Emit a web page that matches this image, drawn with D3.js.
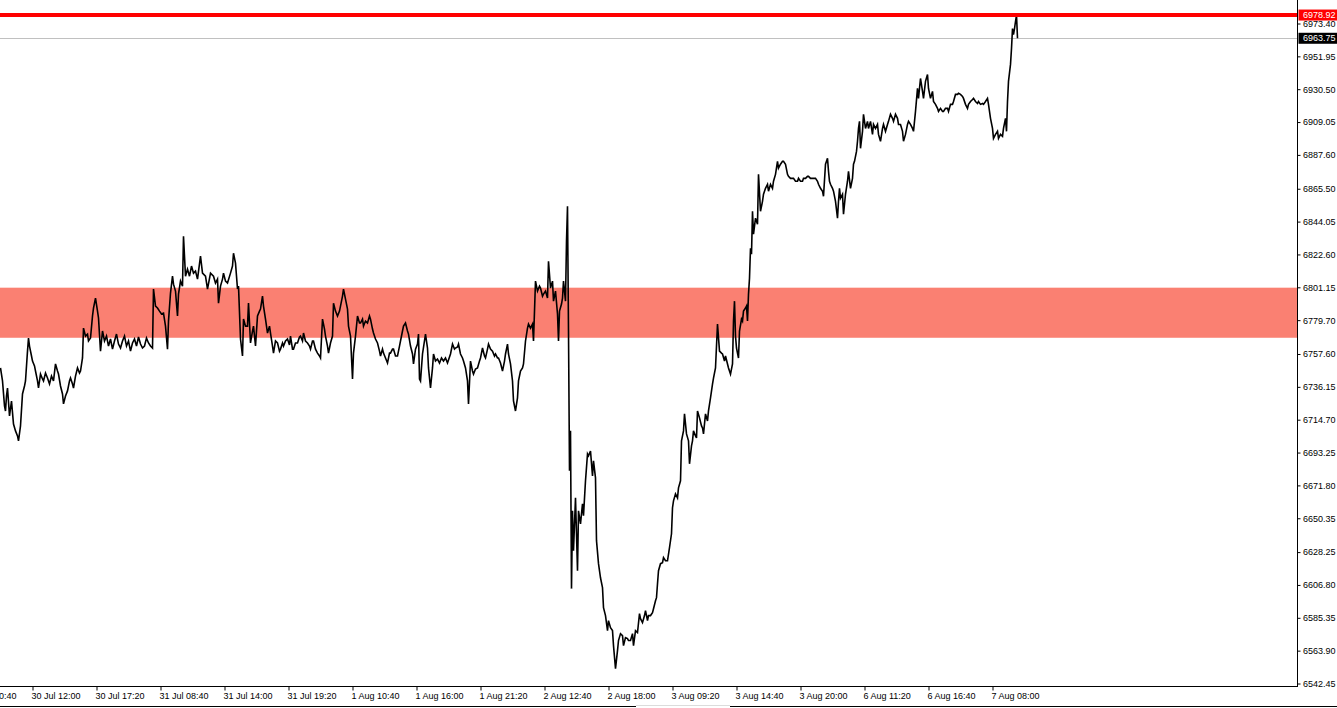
<!DOCTYPE html>
<html>
<head>
<meta charset="utf-8">
<script src="https://cdn.jsdelivr.net/npm/d3@7"></script>
<style>
  html, body { margin: 0; padding: 0; background: #ffffff; }
  svg { display: block; }
  text { font-family: "Liberation Sans", Arial, sans-serif; }
</style>
</head>
<body>
<svg id="chart" width="1337" height="708"></svg>
<script>
// ---------------- DATA ----------------
// [bar index (one M5 bar per step), close price]
const priceSeries = [
[0,6748.5],[2,6740.0],[4,6723.7],[5,6720.4],[6,6730.2],[7,6735.4],[9,6717.2],[11,6726.9],[13,6711.9],[15,6707.4],[17,6704.1],[18,6700.9],[20,6710.6],[22,6731.5],[24,6736.7],[25,6740.0],[27,6759.5],[28,6768.0],[29,6762.8],[31,6756.3],[32,6753.0],[34,6749.8],[35,6746.5],[37,6740.0],[38,6735.4],[40,6744.5],[42,6741.3],[43,6740.0],[45,6745.2],[47,6741.9],[49,6738.0],[51,6743.2],[53,6740.0],[55,6751.1],[57,6746.5],[58,6744.5],[60,6736.7],[62,6731.5],[63,6725.0],[65,6730.2],[67,6733.5],[69,6740.0],[70,6741.9],[72,6738.0],[73,6735.4],[75,6743.2],[77,6748.5],[79,6745.2],[80,6746.5],[82,6755.0],[83,6774.5],[85,6769.3],[87,6770.6],[88,6766.1],[90,6768.0],[92,6782.4],[93,6787.6],[95,6794.1],[97,6785.6],[98,6781.1],[100,6759.5],[102,6772.6],[104,6766.1],[106,6769.3],[108,6762.8],[110,6767.4],[112,6760.8],[114,6766.1],[116,6770.6],[118,6764.1],[120,6761.5],[122,6766.1],[124,6769.3],[126,6762.8],[128,6766.1],[130,6759.5],[132,6764.8],[134,6767.4],[136,6762.8],[138,6768.7],[140,6764.1],[142,6761.5],[144,6762.8],[146,6768.0],[148,6764.8],[150,6762.8],[152,6761.5],
[153,6800.0],[155,6788.9],[157,6787.6],[159,6785.6],[161,6783.7],[163,6784.3],[165,6775.8],[167,6760.8],[168,6779.1],[170,6797.4],[172,6808.4],[173,6803.2],[175,6798.7],[177,6782.4],[178,6796.7],[180,6805.2],[182,6801.9],[183,6834.5],[185,6808.4],[187,6813.0],[189,6808.4],[191,6815.0],[193,6810.4],[195,6811.7],[197,6806.5],[200,6821.5],[202,6810.4],[205,6808.4],[207,6800.0],[210,6810.4],[213,6808.4],[215,6803.9],[217,6806.5],[218,6790.8],[220,6801.9],[222,6806.5],[223,6810.4],[225,6805.2],[227,6803.9],[230,6810.4],[232,6815.0],[233,6823.4],[235,6816.9],[237,6800.0],[238,6801.9],[240,6767.4],
[242,6756.3],[243,6780.4],[245,6775.8],[247,6775.8],[248,6790.8],[250,6764.8],[252,6772.6],[253,6775.8],[255,6762.8],[257,6782.4],[259,6785.6],[260,6786.9],[262,6795.4],[263,6788.9],[265,6780.4],[267,6771.3],[269,6775.8],[270,6771.3],[272,6762.8],[273,6758.2],[275,6766.1],[277,6764.8],[279,6759.5],[280,6760.8],[282,6764.8],[283,6762.8],[285,6766.1],[287,6767.4],[289,6763.5],[290,6769.3],[292,6760.8],[293,6760.8],[295,6764.8],[297,6764.8],[299,6768.7],[300,6769.3],[302,6766.1],[303,6771.3],[305,6766.1],[307,6764.8],[309,6762.8],[310,6760.8],[312,6766.1],[313,6766.1],[315,6760.8],[317,6758.2],[319,6756.3],[320,6755.0],
[322,6780.4],[324,6773.9],[325,6769.3],[327,6762.8],[328,6758.2],[330,6764.8],[332,6769.3],[333,6790.8],[335,6785.6],[337,6782.4],[339,6785.6],[340,6788.9],[342,6795.4],[343,6800.0],[345,6793.4],[347,6786.9],[348,6775.8],[350,6769.3],[352,6741.3],[353,6758.2],[355,6769.3],[357,6782.4],[359,6777.8],[360,6777.8],[362,6780.4],[363,6775.8],[365,6779.1],[367,6777.8],[369,6782.4],[370,6780.4],[372,6773.9],[373,6771.3],[375,6767.4],[377,6764.8],[379,6759.5],[380,6756.3],[382,6760.8],[383,6758.2],[385,6755.0],[387,6751.7],[389,6758.2],[390,6758.2],[392,6760.8],[393,6760.8],[395,6756.3],[397,6756.3],[399,6762.8],[400,6766.1],[402,6772.6],[403,6775.8],[405,6777.8],[407,6772.6],[408,6770.6],[410,6762.8],[412,6757.6],[413,6751.1],[415,6760.8],[417,6764.1],[418,6770.6],[419,6741.3],[420,6740.0],
[422,6757.6],[425,6770.6],[427,6761.5],[428,6748.5],[430,6735.4],[432,6748.5],[433,6757.6],[435,6753.0],[437,6754.3],[439,6751.7],[441,6755.0],[443,6753.0],[445,6755.0],[447,6751.7],[449,6755.6],[450,6757.6],[452,6764.1],[454,6760.8],[455,6761.5],[457,6762.2],[458,6764.1],[460,6757.6],[462,6755.0],[463,6753.0],[465,6748.5],[467,6740.0],[468,6725.0],[470,6753.0],[472,6746.5],[473,6744.5],[475,6747.8],[477,6748.5],[479,6753.0],[480,6755.0],[482,6761.5],[484,6756.3],[485,6755.0],[487,6760.8],[488,6764.1],[490,6760.8],[492,6759.5],[494,6756.3],[495,6757.6],[497,6755.0],[498,6755.0],[500,6751.7],[502,6746.5],[504,6753.0],[505,6757.6],[507,6764.1],[508,6757.6],[510,6751.1],[512,6740.0],[513,6726.9],[515,6720.4],[517,6728.9],[518,6740.0],[520,6746.5],[522,6748.5],[523,6751.1],[525,6766.1],[527,6774.5],[528,6777.1],[530,6774.5],[532,6777.1],[533,6766.1],[534,6785.6],[535,6805.2],[537,6798.7],[539,6801.9],[540,6800.6],[542,6795.4],[543,6796.7],[545,6798.7],[547,6794.1],[548,6818.2],[550,6800.6],[552,6805.2],[553,6792.1],[555,6798.7],[557,6783.7],[558,6766.1],[559,6785.6],[561,6790.2],[562,6794.1],[563,6805.2],[565,6792.1],[566,6831.3],[567,6854.1],
[568,6772.6],[569,6681.3],[570,6707.4],[571,6604.4],[572,6655.2],[573,6629.1],[575,6663.7],[577,6616.1],[578,6655.2],[580,6646.7],[582,6659.8],[583,6652.0],[585,6674.8],[587,6692.4],[588,6691.1],[590,6694.3],[592,6678.0],[593,6687.8],[595,6676.7],[596,6635.7],[598,6620.7],[600,6611.5],[602,6605.0],[603,6592.0],[605,6586.8],[607,6577.0],[608,6583.5],[610,6578.9],[612,6577.0],[613,6567.2],[615,6552.2],[617,6563.9],[618,6570.5],[620,6575.0],[622,6573.7],[623,6567.2],[625,6572.4],[627,6571.8],[628,6570.5],[630,6570.5],[632,6575.0],[633,6567.2],[635,6577.0],[637,6575.7],[639,6588.1],[640,6584.8],[642,6582.2],[644,6586.8],[645,6590.0],[647,6583.5],[648,6586.8],[650,6586.8],[652,6588.7],[653,6591.3],[655,6596.5],[656,6598.5],[657,6607.6],[658,6616.1],[660,6620.7],[662,6621.3],[663,6624.6],[665,6622.6],[667,6622.6],[669,6631.1],[671,6640.2],[672,6657.2],[673,6661.7],[675,6666.3],[677,6663.7],[678,6670.2],[680,6674.8],[681,6700.9],[683,6707.4],[684,6718.5],[686,6705.4],[688,6700.9],[689,6685.9],[691,6697.6],[692,6700.9],[693,6707.4],[695,6704.1],[696,6702.8],[697,6720.4],[699,6715.9],[701,6710.6],[702,6709.3],[703,6705.4],[705,6718.5],[707,6713.9],[708,6720.4],[710,6728.9],[712,6738.0],[713,6741.9],[715,6748.5],[716,6762.8],[717,6777.1],[719,6759.5],[721,6758.2],[722,6757.6],[724,6753.0],[725,6756.3],[727,6751.1],[728,6748.5],[730,6744.5],[732,6751.1],[733,6779.1],[734,6792.1],[735,6769.3],[736,6761.5],[738,6755.0],[739,6772.6],[741,6780.4],[742,6779.1],[743,6785.6],[745,6787.6],[746,6788.9],[747,6779.1],[748,6796.7],[749,6807.1],[750,6826.7],[751,6822.8],[752,6850.8],[753,6835.8],[755,6846.3],[757,6842.3],[758,6874.9],[760,6850.8],[762,6857.3],[763,6861.9],[765,6865.8],[767,6868.4],[768,6863.9],[770,6868.4],[772,6865.8],[773,6870.4],[775,6874.9],[777,6883.4],[778,6878.9],[780,6881.5],[782,6883.4],[783,6883.4],[785,6881.5],[787,6874.9],[788,6873.6],[790,6872.3],[792,6872.3],[793,6872.3],[795,6870.4],[797,6870.4],[798,6872.3],[800,6870.4],[802,6870.4],[803,6872.3],[805,6872.3],[807,6873.6],[808,6873.6],[810,6872.3],[812,6872.3],[813,6872.3],[815,6872.3],[817,6870.4],[818,6868.4],[820,6865.8],[822,6863.9],[823,6860.6],
[825,6881.5],[827,6885.4],[828,6876.9],[829,6870.4],[830,6868.4],[832,6865.8],[833,6863.9],[835,6857.3],[837,6846.3],[838,6857.3],[839,6865.8],[840,6859.3],[842,6861.9],[843,6848.9],[845,6861.9],[847,6870.4],[848,6876.9],[850,6865.8],[852,6872.3],[853,6881.5],[854,6883.4],[856,6889.9],[857,6896.5],[858,6904.9],[859,6909.5],[860,6891.9],[862,6903.0],[863,6914.1],[865,6904.9],[867,6909.5],[868,6904.9],[870,6909.5],[872,6901.0],[873,6907.5],[875,6904.9],[877,6907.5],[878,6901.0],[880,6896.5],[882,6904.9],[883,6907.5],[885,6903.0],[887,6907.5],[888,6909.5],[890,6914.1],[892,6911.5],[893,6909.5],[895,6914.1],[897,6911.5],[898,6907.5],[900,6907.5],[902,6903.0],[903,6896.5],[905,6901.0],[907,6907.5],[908,6909.5],[910,6907.5],[912,6904.9],[913,6903.0],[915,6916.0],[917,6931.0],[918,6924.5],[920,6937.5],[922,6929.1],[923,6924.5],[925,6935.6],[927,6940.1],[928,6931.0],[930,6924.5],[932,6929.1],[933,6922.5],[935,6920.6],[937,6918.0],[938,6916.0],[940,6918.0],[942,6916.0],[943,6916.0],[945,6918.0],[947,6918.0],[948,6916.0],[950,6920.6],[952,6920.6],[953,6922.5],[955,6927.1],[957,6927.1],[958,6927.8],[960,6927.1],[962,6925.8],[963,6924.5],[965,6920.6],[967,6918.0],[968,6920.6],[970,6922.5],[972,6923.8],[973,6924.5],[975,6922.5],[977,6921.2],[978,6922.5],[980,6920.6],[982,6921.2],[983,6920.6],[985,6922.5],[987,6924.5],[988,6920.6],[990,6911.5],[992,6904.9],[993,6898.4],[995,6901.0],[997,6903.0],[998,6898.4],[1000,6901.0],[1002,6899.7],[1003,6904.9],[1005,6911.5],[1006,6903.0],[1007,6922.5],[1008,6935.6],[1010,6946.7],[1011,6957.1],[1012,6970.1],[1013,6966.2],[1014,6970.1],[1015,6974.7],[1016,6978.9],[1017,6963.75]
];

// Price axis tick labels (right scale)
const priceTicks = [6973.40, 6951.95, 6930.50, 6909.05, 6887.60, 6865.50, 6844.05, 6822.60,
  6801.15, 6779.70, 6757.60, 6736.15, 6714.70, 6693.25, 6671.80, 6650.35, 6628.25, 6606.80,
  6585.35, 6563.90, 6542.45];

// Time axis tick labels (every 64 M5 bars)
const timeTickBars = [-32, 32, 96, 160, 224, 288, 352, 416, 480, 544, 608, 672, 736, 800, 864, 928, 992];
const timeTickLabels = ["27 Jul 20:40", "30 Jul 12:00", "30 Jul 17:20", "31 Jul 08:40", "31 Jul 14:00",
  "31 Jul 19:20", "1 Aug 10:40", "1 Aug 16:00", "1 Aug 21:20", "2 Aug 12:40", "2 Aug 18:00",
  "3 Aug 09:20", "3 Aug 14:40", "3 Aug 20:00", "6 Aug 11:20", "6 Aug 16:40", "7 Aug 08:00"];

// Horizontal levels
const resistanceLevel = 6978.92;   // red line
const lastPrice = 6963.75;         // grey bid line
const zoneTop = 6800.9;            // salmon zone
const zoneBottom = 6768.2;

// ---------------- DRAW ----------------
const W = 1337, H = 708;
const plotRight = 1297.5, plotBottom = 686.5;

const svg = d3.select("#chart");
svg.append("rect").attr("width", W).attr("height", H).attr("fill", "#ffffff");

const x = d3.scaleLinear().domain([0, 1297]).range([0, 1297]);
const y = d3.scaleLinear().domain([6542.45, 6973.40]).range([683.5, 23.5]);

const defs = svg.append("defs");
defs.append("clipPath").attr("id", "plotClip")
  .append("rect").attr("x", 0).attr("y", 0).attr("width", plotRight).attr("height", plotBottom);

const plot = svg.append("g").attr("clip-path", "url(#plotClip)");

// zone
plot.append("rect")
  .attr("x", 0).attr("width", plotRight)
  .attr("y", y(zoneTop)).attr("height", y(zoneBottom) - y(zoneTop))
  .attr("fill", "#FA8072");

// last price line
plot.append("line")
  .attr("x1", 0).attr("x2", plotRight)
  .attr("y1", Math.round(y(lastPrice)) + 0.5).attr("y2", Math.round(y(lastPrice)) + 0.5)
  .attr("stroke", "#c0c0c0").attr("stroke-width", 1);

// price line
const line = d3.line().x(d => x(d[0]) + 0.5).y(d => y(d[1]));
plot.append("path")
  .datum(priceSeries)
  .attr("d", line)
  .attr("fill", "none")
  .attr("stroke", "#000000")
  .attr("stroke-width", 1.6)
  .attr("stroke-linejoin", "miter");

// resistance line
plot.append("line")
  .attr("x1", 0).attr("x2", plotRight)
  .attr("y1", y(resistanceLevel)).attr("y2", y(resistanceLevel))
  .attr("stroke", "#ff0000").attr("stroke-width", 4);

// right price axis
const yAxis = d3.axisRight(y)
  .tickValues(priceTicks)
  .tickFormat(d3.format(".2f"))
  .tickSize(3)
  .tickPadding(2.5);
const gy = svg.append("g")
  .attr("transform", `translate(${plotRight},0)`)
  .call(yAxis);
gy.select(".domain").remove();
gy.selectAll(".tick line").attr("stroke", "#000");
gy.selectAll(".tick text")
  .attr("fill", "#000")
  .style("font-size", "9px")
  .style("font-family", "'Liberation Sans', Arial, sans-serif");

// axis lines
svg.append("line").attr("x1", plotRight).attr("x2", plotRight).attr("y1", 0).attr("y2", plotBottom + 0.5)
  .attr("stroke", "#000").attr("stroke-width", 1);
svg.append("line").attr("x1", 0).attr("x2", plotRight).attr("y1", plotBottom).attr("y2", plotBottom)
  .attr("stroke", "#000").attr("stroke-width", 1);

// bottom time axis
const xAxis = d3.axisBottom(x)
  .tickValues(timeTickBars)
  .tickFormat((d, i) => timeTickLabels[i])
  .tickSize(4)
  .tickPadding(2.5);
const gx = svg.append("g")
  .attr("transform", `translate(0.5,${plotBottom})`)
  .call(xAxis);
gx.select(".domain").remove();
gx.selectAll(".tick line").attr("stroke", "#000");
gx.selectAll(".tick text")
  .attr("fill", "#000")
  .attr("text-anchor", "start")
  .attr("x", -1.5)
  .style("font-size", "9px")
  .style("font-family", "'Liberation Sans', Arial, sans-serif");

// price labels boxes
function priceLabel(value, bg) {
  const cy = y(value);
  const g = svg.append("g");
  g.append("rect")
    .attr("x", plotRight + 1).attr("y", cy - 5.5)
    .attr("width", W - plotRight - 1).attr("height", 11)
    .attr("fill", bg);
  g.append("text")
    .attr("x", plotRight + 5.5).attr("y", cy)
    .attr("dy", "0.34em")
    .attr("fill", "#ffffff")
    .style("font-size", "9px")
    .text(d3.format(".2f")(value));
}
priceLabel(resistanceLevel, "#ff0000");
priceLabel(lastPrice, "#000000");

// bottom frame line with scrollbar thumb
svg.append("line").attr("x1", 0).attr("x2", 636).attr("y1", 706.5).attr("y2", 706.5)
  .attr("stroke", "#000").attr("stroke-width", 1);
svg.append("line").attr("x1", 730).attr("x2", W).attr("y1", 706.5).attr("y2", 706.5)
  .attr("stroke", "#000").attr("stroke-width", 1);
svg.append("line").attr("x1", 636).attr("x2", 730).attr("y1", 705.5).attr("y2", 705.5)
  .attr("stroke", "#dcdcdc").attr("stroke-width", 1);
</script>
</body>
</html>
